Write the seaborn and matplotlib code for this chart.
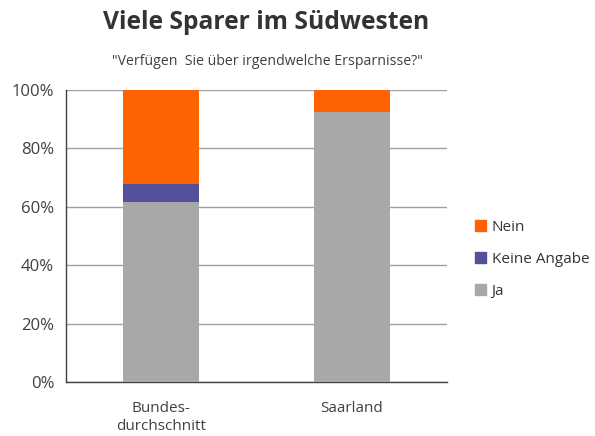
import pandas as pd
import seaborn as sns
import numpy as np
import matplotlib.pyplot as plt
from matplotlib.patches import Patch

# data (percent)
categories = ["Bundes-\ndurchschnitt", "Saarland"]
ja = [61.5, 92.4]
keine_angabe = [6.3, 0.0]
nein = [32.2, 7.6]

colors = {"Nein": "#FF6200", "Keine Angabe": "#525199", "Ja": "#A8A8A8"}

sns.set_style("white")
plt.rcParams['font.family'] = ['Open Sans', 'DejaVu Sans']

df = pd.DataFrame({"cat": categories, "Ja": ja, "Keine Angabe": keine_angabe, "Nein": nein})
# cumulative heights, drawn from back to front
df["top_nein"] = df["Ja"] + df["Keine Angabe"] + df["Nein"]
df["top_ka"] = df["Ja"] + df["Keine Angabe"]

fig = plt.figure(figsize=(5.95, 4.36), dpi=100)
ax = fig.add_axes([0.111, 0.124, 0.64, 0.67])

for col, name in [("top_nein", "Nein"), ("top_ka", "Keine Angabe"), ("Ja", "Ja")]:
    sns.barplot(data=df, x="cat", y=col, color=colors[name], width=0.4,
                saturation=1, linewidth=0, ax=ax, zorder=3)

ax.set_ylim(0, 100)
ax.set_xlim(-0.5, 1.5)
ax.set_yticks(np.arange(0, 101, 20))
ax.set_yticklabels([f"{v}%" for v in range(0, 101, 20)], fontsize=12, color="#404040")
ax.yaxis.grid(True, color="#A0A0A0", linewidth=1, zorder=0)
ax.set_axisbelow(True)
ax.set_xlabel("")
ax.set_ylabel("")
ax.tick_params(axis="x", length=0, labelsize=11, labelcolor="#404040", pad=14)
ax.set_xticks([-0.5, 0.5, 1.5], minor=True)
ax.tick_params(axis="x", which="minor", length=5, color="#404040", width=1)
ax.tick_params(axis="y", length=5, color="#404040", width=1, direction="out")
for s in ["top", "right"]:
    ax.spines[s].set_visible(False)
for s in ["left", "bottom"]:
    ax.spines[s].set_color("#404040")
    ax.spines[s].set_linewidth(1)

handles = [Patch(color=colors[n], label=n) for n in ["Nein", "Keine Angabe", "Ja"]]
fig.legend(handles=handles, loc="center left", bbox_to_anchor=(0.775, 0.405),
           frameon=False, fontsize=11, handlelength=0.7, handleheight=0.7,
           handletextpad=0.4, labelspacing=1.1, labelcolor="#333333")

fig.text(0.447, 0.948, "Viele Sparer im Südwesten", ha="center", va="center",
         fontsize=17.7, fontweight="bold", color="#333333")
fig.text(0.449, 0.858, '"Verfügen  Sie über irgendwelche Ersparnisse?"', ha="center",
         va="center", fontsize=10.2, color="#404040")

fig.savefig("out.png", dpi=100)
